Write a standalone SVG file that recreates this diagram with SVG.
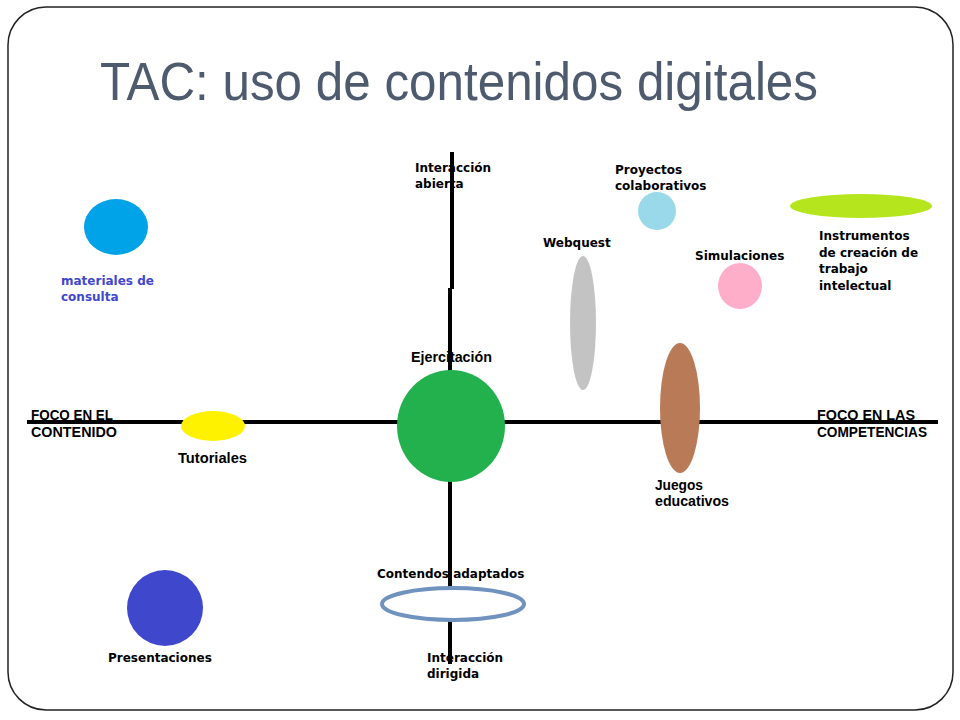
<svg xmlns="http://www.w3.org/2000/svg" width="960" height="720" viewBox="0 0 960 720">
<style>
.t{font-family:"DejaVu Sans","Verdana",sans-serif;font-weight:bold;font-size:12px;fill:#000}
.c{font-family:"Liberation Sans","Arial",sans-serif;font-weight:bold;font-size:14px;fill:#000}
.ax{stroke:#000;stroke-width:4;fill:none}
</style>
<rect x="0" y="0" width="960" height="720" fill="#fff"/>
<rect x="8" y="7" width="945" height="703" rx="38" ry="38" fill="#fff" stroke="#222" stroke-width="1.5"/>
<text x="100" y="100" font-family="Liberation Sans, Arial, sans-serif" font-size="53" fill="#4e5b6f" textLength="718" lengthAdjust="spacingAndGlyphs">TAC: uso de contenidos digitales</text>

<g id="connectors">
<line class="ax" x1="27" y1="422" x2="938" y2="422"/>
<line class="ax" x1="452" y1="152" x2="452" y2="289"/>
<line class="ax" x1="450" y1="288" x2="450" y2="664"/>
</g>

<g id="axis-labels">
<text class="t" x="415" y="172">Interacción</text>
<text class="t" x="415" y="188">abierta</text>
<text class="t" x="427" y="662">Interacción</text>
<text class="t" x="427" y="678">dirigida</text>
<text class="c" x="31" y="420" textLength="82" lengthAdjust="spacingAndGlyphs">FOCO EN EL</text>
<text class="c" x="31" y="437" textLength="86" lengthAdjust="spacingAndGlyphs">CONTENIDO</text>
<text class="c" x="817" y="420" textLength="98" lengthAdjust="spacingAndGlyphs">FOCO EN LAS</text>
<text class="c" x="817" y="437" textLength="110" lengthAdjust="spacingAndGlyphs">COMPETENCIAS</text>
</g>

<g id="materiales">
<ellipse cx="116" cy="227" rx="32" ry="28" fill="#00a2e8"/>
<text class="t" x="61" y="285" style="fill:#3f48cc">materiales de</text>
<text class="t" x="61" y="301" style="fill:#3f48cc">consulta</text>
</g>

<g id="tutoriales">
<ellipse cx="213" cy="426" rx="32" ry="15" fill="#fff200"/>
<text class="c" x="178" y="463" textLength="69" lengthAdjust="spacingAndGlyphs">Tutoriales</text>
</g>

<g id="ejercitacion">
<text class="c" x="411" y="362" textLength="81" lengthAdjust="spacingAndGlyphs">Ejercitación</text>
<ellipse cx="451" cy="426" rx="54" ry="56" fill="#22b14c"/>
</g>

<g id="webquest">
<ellipse cx="583" cy="323" rx="13" ry="67" fill="#c3c3c3"/>
<text class="t" x="543" y="247">Webquest</text>
</g>

<g id="proyectos">
<circle cx="657" cy="211" r="19" fill="#99d9ea"/>
<text class="t" x="615" y="174">Proyectos</text>
<text class="t" x="615" y="190">colaborativos</text>
</g>

<g id="simulaciones">
<ellipse cx="740" cy="286" rx="22" ry="23" fill="#ffaec9"/>
<text class="t" x="695" y="260">Simulaciones</text>
</g>

<g id="instrumentos">
<ellipse cx="861" cy="206" rx="71" ry="12" fill="#b5e61d"/>
<text class="t" x="819" y="240">Instrumentos</text>
<text class="t" x="819" y="257">de creación de</text>
<text class="t" x="819" y="273">trabajo</text>
<text class="t" x="819" y="290">intelectual</text>
</g>

<g id="juegos">
<ellipse cx="680" cy="408" rx="20" ry="65" fill="#b97a57"/>
<text class="c" x="655" y="490" textLength="48" lengthAdjust="spacingAndGlyphs">Juegos</text>
<text class="c" x="655" y="506" textLength="74" lengthAdjust="spacingAndGlyphs">educativos</text>
</g>

<g id="presentaciones">
<circle cx="165" cy="608" r="38" fill="#3f48cc"/>
<text class="t" x="108" y="662">Presentaciones</text>
</g>

<g id="contenidos-adaptados">
<text class="t" x="377" y="578">Contendos adaptados</text>
<ellipse cx="453" cy="604" rx="71" ry="16" fill="#fff" stroke="#7092be" stroke-width="4"/>
</g>
</svg>
